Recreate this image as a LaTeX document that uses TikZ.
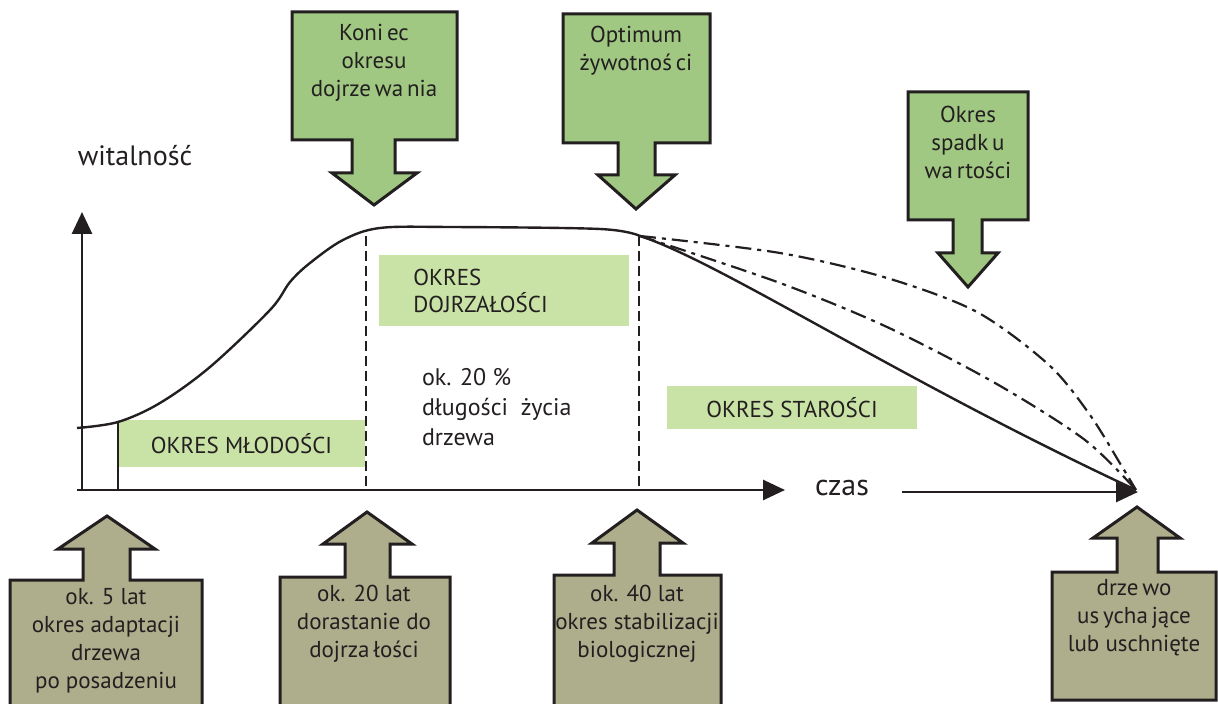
\documentclass[tikz,border=0pt]{standalone}
\usepackage{fontspec}
\setmainfont{PT Sans}
\usetikzlibrary{arrows.meta}

\definecolor{callgreen}{RGB}{160,200,130}
\definecolor{labgreen}{RGB}{201,226,166}
\definecolor{khaki}{RGB}{174,174,140}
\definecolor{ink}{RGB}{35,31,32}

\begin{document}
\begin{tikzpicture}[
            x = 0.5pt, y = -0.5pt, % one unit = one pixel of the drawing
            > = {Triangle[length=11pt, width=10pt]}, % arrow head style
            callout/.style = {draw = ink, line width = 1.5pt, line join = miter},
            calltext/.style = {align = center, text = ink, font = \fontsize{11.5}{14}\selectfont},
            period/.style = {fill = labgreen, text = ink, inner sep = 0pt, font = \fontsize{11.5}{13.5}\selectfont},
            axis/.style = {draw = ink, line width = 1.4pt},
            curve/.style = {draw = ink, line width = 1.2pt},
            dashdot/.style = {draw = ink, line width = 1.1pt, dash pattern = on 8pt off 3pt on 2pt off 3pt},
            limit/.style = {draw = ink, line width = 1.2pt, dash pattern = on 5pt off 2.5pt}
        ]

        \clip (0,0) rectangle (1218,704);

        % callouts at the top
        \draw[callout, fill=callgreen] (292,12) -- (457,12) -- (457,140) -- (395,140) -- (395,173) -- (417,173)
            -- (374,205) -- (332,173) -- (352,173) -- (352,140) -- (292,140) -- cycle;
        \draw[callout, fill=callgreen] (563,14) -- (710,14) -- (710,143) -- (655,143) -- (655,175) -- (675,175)
            -- (636,209) -- (598,175) -- (618,175) -- (618,143) -- (563,143) -- cycle;
        \draw[callout, fill=callgreen] (908,92) -- (1028,92) -- (1028,220) -- (982,220) -- (982,253) -- (998,253)
            -- (968,287) -- (938,253) -- (953,253) -- (953,220) -- (908,220) -- cycle;

        \node[calltext] (kon)  at (374,63)  {Koni\,ec\\okresu\\dojrze\,wa\,nia};
        \node[calltext] (opt)  at (636,51)  {Optimum\\żywotnoś\,ci};
        \node[calltext] (spad) at (968,142) {Okres\\spadk\,u\\wa\,rtości};

        % callouts at the bottom
        \draw[callout, fill=khaki] (10,580) -- (83,580) -- (83,549) -- (58,549) -- (107,516) -- (155,549)
            -- (130,549) -- (130,580) -- (202,580) -- (202,720) -- (10,720) -- cycle;
        \draw[callout, fill=khaki] (280,577) -- (345,577) -- (345,544) -- (323,544) -- (367,512) -- (412,544)
            -- (390,544) -- (390,577) -- (450,577) -- (450,720) -- (280,720) -- cycle;
        \draw[callout, fill=khaki] (554,575) -- (614,575) -- (614,543) -- (592,543) -- (637,510) -- (683,543)
            -- (660,543) -- (660,575) -- (721,575) -- (721,720) -- (554,720) -- cycle;
        \draw[callout, fill=khaki] (1052,572) -- (1117,572) -- (1117,538) -- (1093,538) -- (1137,507) -- (1180,538)
            -- (1158,538) -- (1158,572) -- (1216,572) -- (1216,700) -- (1052,700) -- cycle;

        \node[calltext] (a5)  at (106,641)  {ok. 5 lat\\okres adaptacji\\drzewa\\po posadzeniu};
        \node[calltext] (a20) at (364,624)  {ok. 20 lat\\dorastanie do\\dojrza\,łości};
        \node[calltext] (a40) at (637,624)  {ok. 40 lat\\okres stabilizacji\\biologicznej};
        \node[calltext] (dry) at (1134,618) {drze\,wo\\us\,ycha\,jące\\lub uschnięte};

        % periods
        \node[period, minimum width=123.5pt, minimum height=23.5pt] (mlod) at (241.5,443.5) {OKRES MŁODOŚCI};
        \node[period, minimum width=125pt, minimum height=35.5pt] (dojr) at (504,290.5) {};
        \node[period, anchor=west, align=left, fill=none] (dojrt) at (413,291) {OKRES\\DOJRZAŁOŚCI};
        \node[period, minimum width=125pt, minimum height=21.5pt] (star) at (792,407.5) {OKRES STAROŚCI};

        \node[anchor=west, align=left, text=ink, font=\fontsize{12}{15}\selectfont] (proc) at (415,407)
            {ok. 20 \%\\długości \ życia\\drzewa};

        % axes
        \coordinate (o) at (82,490);
        \coordinate (ytop) at (82,212);
        \coordinate (xend) at (785,490);
        \coordinate (fin) at (1138,492);

        \draw[axis, ->] (o) -- (ytop);
        \draw[axis, ->] (77,490) -- (xend);
        \node[text=ink, font=\fontsize{15}{18}\selectfont] (czas) at (842,488) {czas};
        \draw[axis, ->] ([xshift=13pt]czas.east |- fin) -- (fin);
        \node[text=ink, font=\fontsize{14}{17}\selectfont] (wit) at (135,156) {witalność};

        % limits of the periods
        \draw[axis, line width=1.2pt] (118,422) -- (118,490);
        \draw[limit] (366,236) -- (366,490);
        \draw[limit] (639,236) -- (639,490);

        % vitality curve
        \draw[curve] plot[smooth, tension=0.55] coordinates {(77,428) (118,422) (160,403) (210,367) (270,310)
            (290,282) (310,263) (343,240) (380,228) (450,227) (600,229) (640,236)};
        \draw[curve] (640,236) .. controls (720,262) and (900,380) .. (1136,490);
        \draw[dashdot] plot[smooth, tension=0.5] coordinates {(640,236) (780,283) (887,327) (995,383) (1085,440) (1136,490)};
        \draw[dashdot] plot[smooth, tension=0.5] coordinates {(640,236) (780,253) (887,278) (977,312) (1049,365)
            (1090,415) (1121,465) (1136,490)};
    \end{tikzpicture}
\end{document}
